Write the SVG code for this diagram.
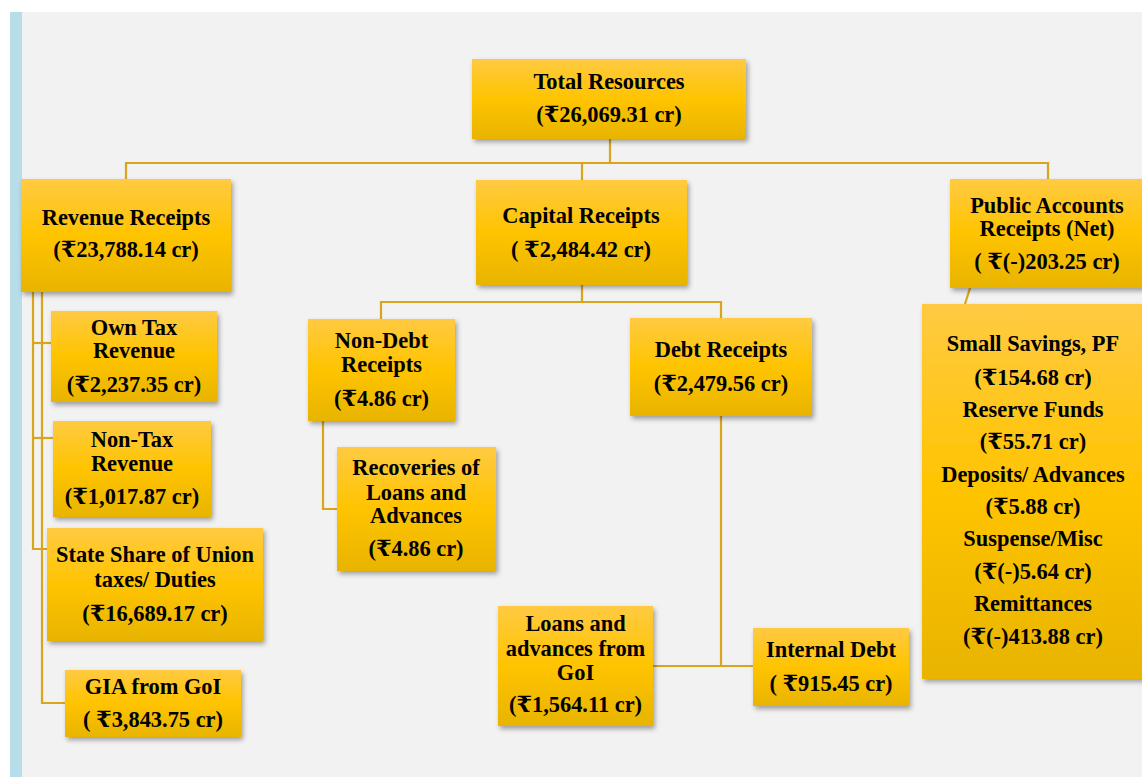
<svg xmlns="http://www.w3.org/2000/svg" width="1142" height="777" viewBox="0 0 1142 777">
<defs>
<linearGradient id="gold" x1="0" y1="0" x2="0" y2="1">
<stop offset="0" stop-color="#ffca42"/>
<stop offset="0.5" stop-color="#ffc400"/>
<stop offset="1" stop-color="#e8b400"/>
</linearGradient>
<filter id="sh" x="-10%" y="-10%" width="130%" height="130%">
<feDropShadow dx="2" dy="3" stdDeviation="2.5" flood-color="#000" flood-opacity="0.35"/>
</filter>
<style>
.box{fill:url(#gold);filter:url(#sh);}
text{font-family:"Liberation Serif","DejaVu Serif","Noto Serif",serif;font-weight:bold;font-size:22.4px;fill:#000;text-anchor:middle;}
.ln{fill:none;stroke:#d9a51c;stroke-width:2.2;}
</style>
</defs>
<rect x="0" y="0" width="1142" height="777" fill="#ffffff"/>
<rect x="10" y="12" width="1132" height="765" fill="#f2f2f2"/>
<rect x="10" y="12" width="12" height="765" fill="#b7dde8"/>

<g id="connectors">
<polyline class="ln" points="610,139 610,163"/>
<polyline class="ln" points="126,180 126,163 1048,163 1048,180"/>
<polyline class="ln" points="582,163 582,180"/>
<polyline class="ln" points="582,285 582,302"/>
<polyline class="ln" points="381,319 381,302 721,302 721,318"/>
<polyline class="ln" points="323,421 323,509 337,509"/>
<polyline class="ln" points="721,416 721,666"/>
<polyline class="ln" points="653,666 753,666"/>
<polyline class="ln" points="970,288 965,304"/>
<polyline class="ln" points="33,292 33,549 47,549"/>
<polyline class="ln" points="42,292 42,703 65,703"/>
<polyline class="ln" points="33,343 51,343"/>
<polyline class="ln" points="33,438 53,438"/>
</g>

<g id="total">
<rect class="box" x="472" y="59" width="274" height="80"/>
<text x="609" y="89">Total Resources</text>
<text x="609" y="121.5">(₹26,069.31 cr)</text>
</g>

<g id="revenue">
<rect class="box" x="21" y="179" width="210" height="113"/>
<text x="126" y="225">Revenue Receipts</text>
<text x="126" y="257">(₹23,788.14 cr)</text>
</g>

<g id="capital">
<rect class="box" x="476" y="180" width="211" height="105"/>
<text x="581" y="222.5">Capital Receipts</text>
<text x="581" y="256.5">( ₹2,484.42 cr)</text>
</g>

<g id="public">
<rect class="box" x="950" y="179" width="196" height="109"/>
<text x="1047" y="212.5">Public Accounts</text>
<text x="1047" y="235.5">Receipts (Net)</text>
<text x="1047" y="268.5">( ₹(-)203.25 cr)</text>
</g>

<g id="owntax">
<rect class="box" x="51" y="311" width="166" height="91"/>
<text x="134" y="335">Own Tax</text>
<text x="134" y="358">Revenue</text>
<text x="134" y="392">(₹2,237.35 cr)</text>
</g>

<g id="nontax">
<rect class="box" x="53" y="421" width="158" height="96"/>
<text x="132" y="447">Non-Tax</text>
<text x="132" y="470.5">Revenue</text>
<text x="132" y="504">(₹1,017.87 cr)</text>
</g>

<g id="stateshare">
<rect class="box" x="47" y="528" width="216" height="113"/>
<text x="155" y="562">State Share of Union</text>
<text x="155" y="586.5">taxes/ Duties</text>
<text x="155" y="620.5">(₹16,689.17 cr)</text>
</g>

<g id="gia">
<rect class="box" x="65" y="670" width="176" height="67"/>
<text x="153" y="694">GIA from GoI</text>
<text x="153" y="727">( ₹3,843.75 cr)</text>
</g>

<g id="nondebt">
<rect class="box" x="308" y="319" width="147" height="102"/>
<text x="381.5" y="348">Non-Debt</text>
<text x="381.5" y="372">Receipts</text>
<text x="381.5" y="405.5">(₹4.86 cr)</text>
</g>

<g id="recoveries">
<rect class="box" x="337" y="447" width="159" height="124"/>
<text x="416" y="475">Recoveries of</text>
<text x="416" y="499.5">Loans and</text>
<text x="416" y="523">Advances</text>
<text x="416" y="555.5">(₹4.86 cr)</text>
</g>

<g id="debt">
<rect class="box" x="630" y="318" width="182" height="98"/>
<text x="721" y="357">Debt Receipts</text>
<text x="721" y="391">(₹2,479.56 cr)</text>
</g>

<g id="loans">
<rect class="box" x="498" y="606" width="155" height="120"/>
<text x="575.5" y="630.5">Loans and</text>
<text x="575.5" y="655.5">advances from</text>
<text x="575.5" y="680">GoI</text>
<text x="575.5" y="712">(₹1,564.11 cr)</text>
</g>

<g id="internal">
<rect class="box" x="753" y="628" width="156" height="78"/>
<text x="831" y="656.5">Internal Debt</text>
<text x="831" y="690.5">( ₹915.45 cr)</text>
</g>

<g id="smallsavings">
<rect class="box" x="922" y="304" width="224" height="375"/>
<text x="1033" y="350.5">Small Savings, PF</text>
<text x="1033" y="384.5">(₹154.68 cr)</text>
<text x="1033" y="416.5">Reserve Funds</text>
<text x="1033" y="449">(₹55.71 cr)</text>
<text x="1033" y="481.5">Deposits/ Advances</text>
<text x="1033" y="514">(₹5.88 cr)</text>
<text x="1033" y="545.5">Suspense/Misc</text>
<text x="1033" y="579">(₹(-)5.64 cr)</text>
<text x="1033" y="610.5">Remittances</text>
<text x="1033" y="644">(₹(-)413.88 cr)</text>
</g>
</svg>
